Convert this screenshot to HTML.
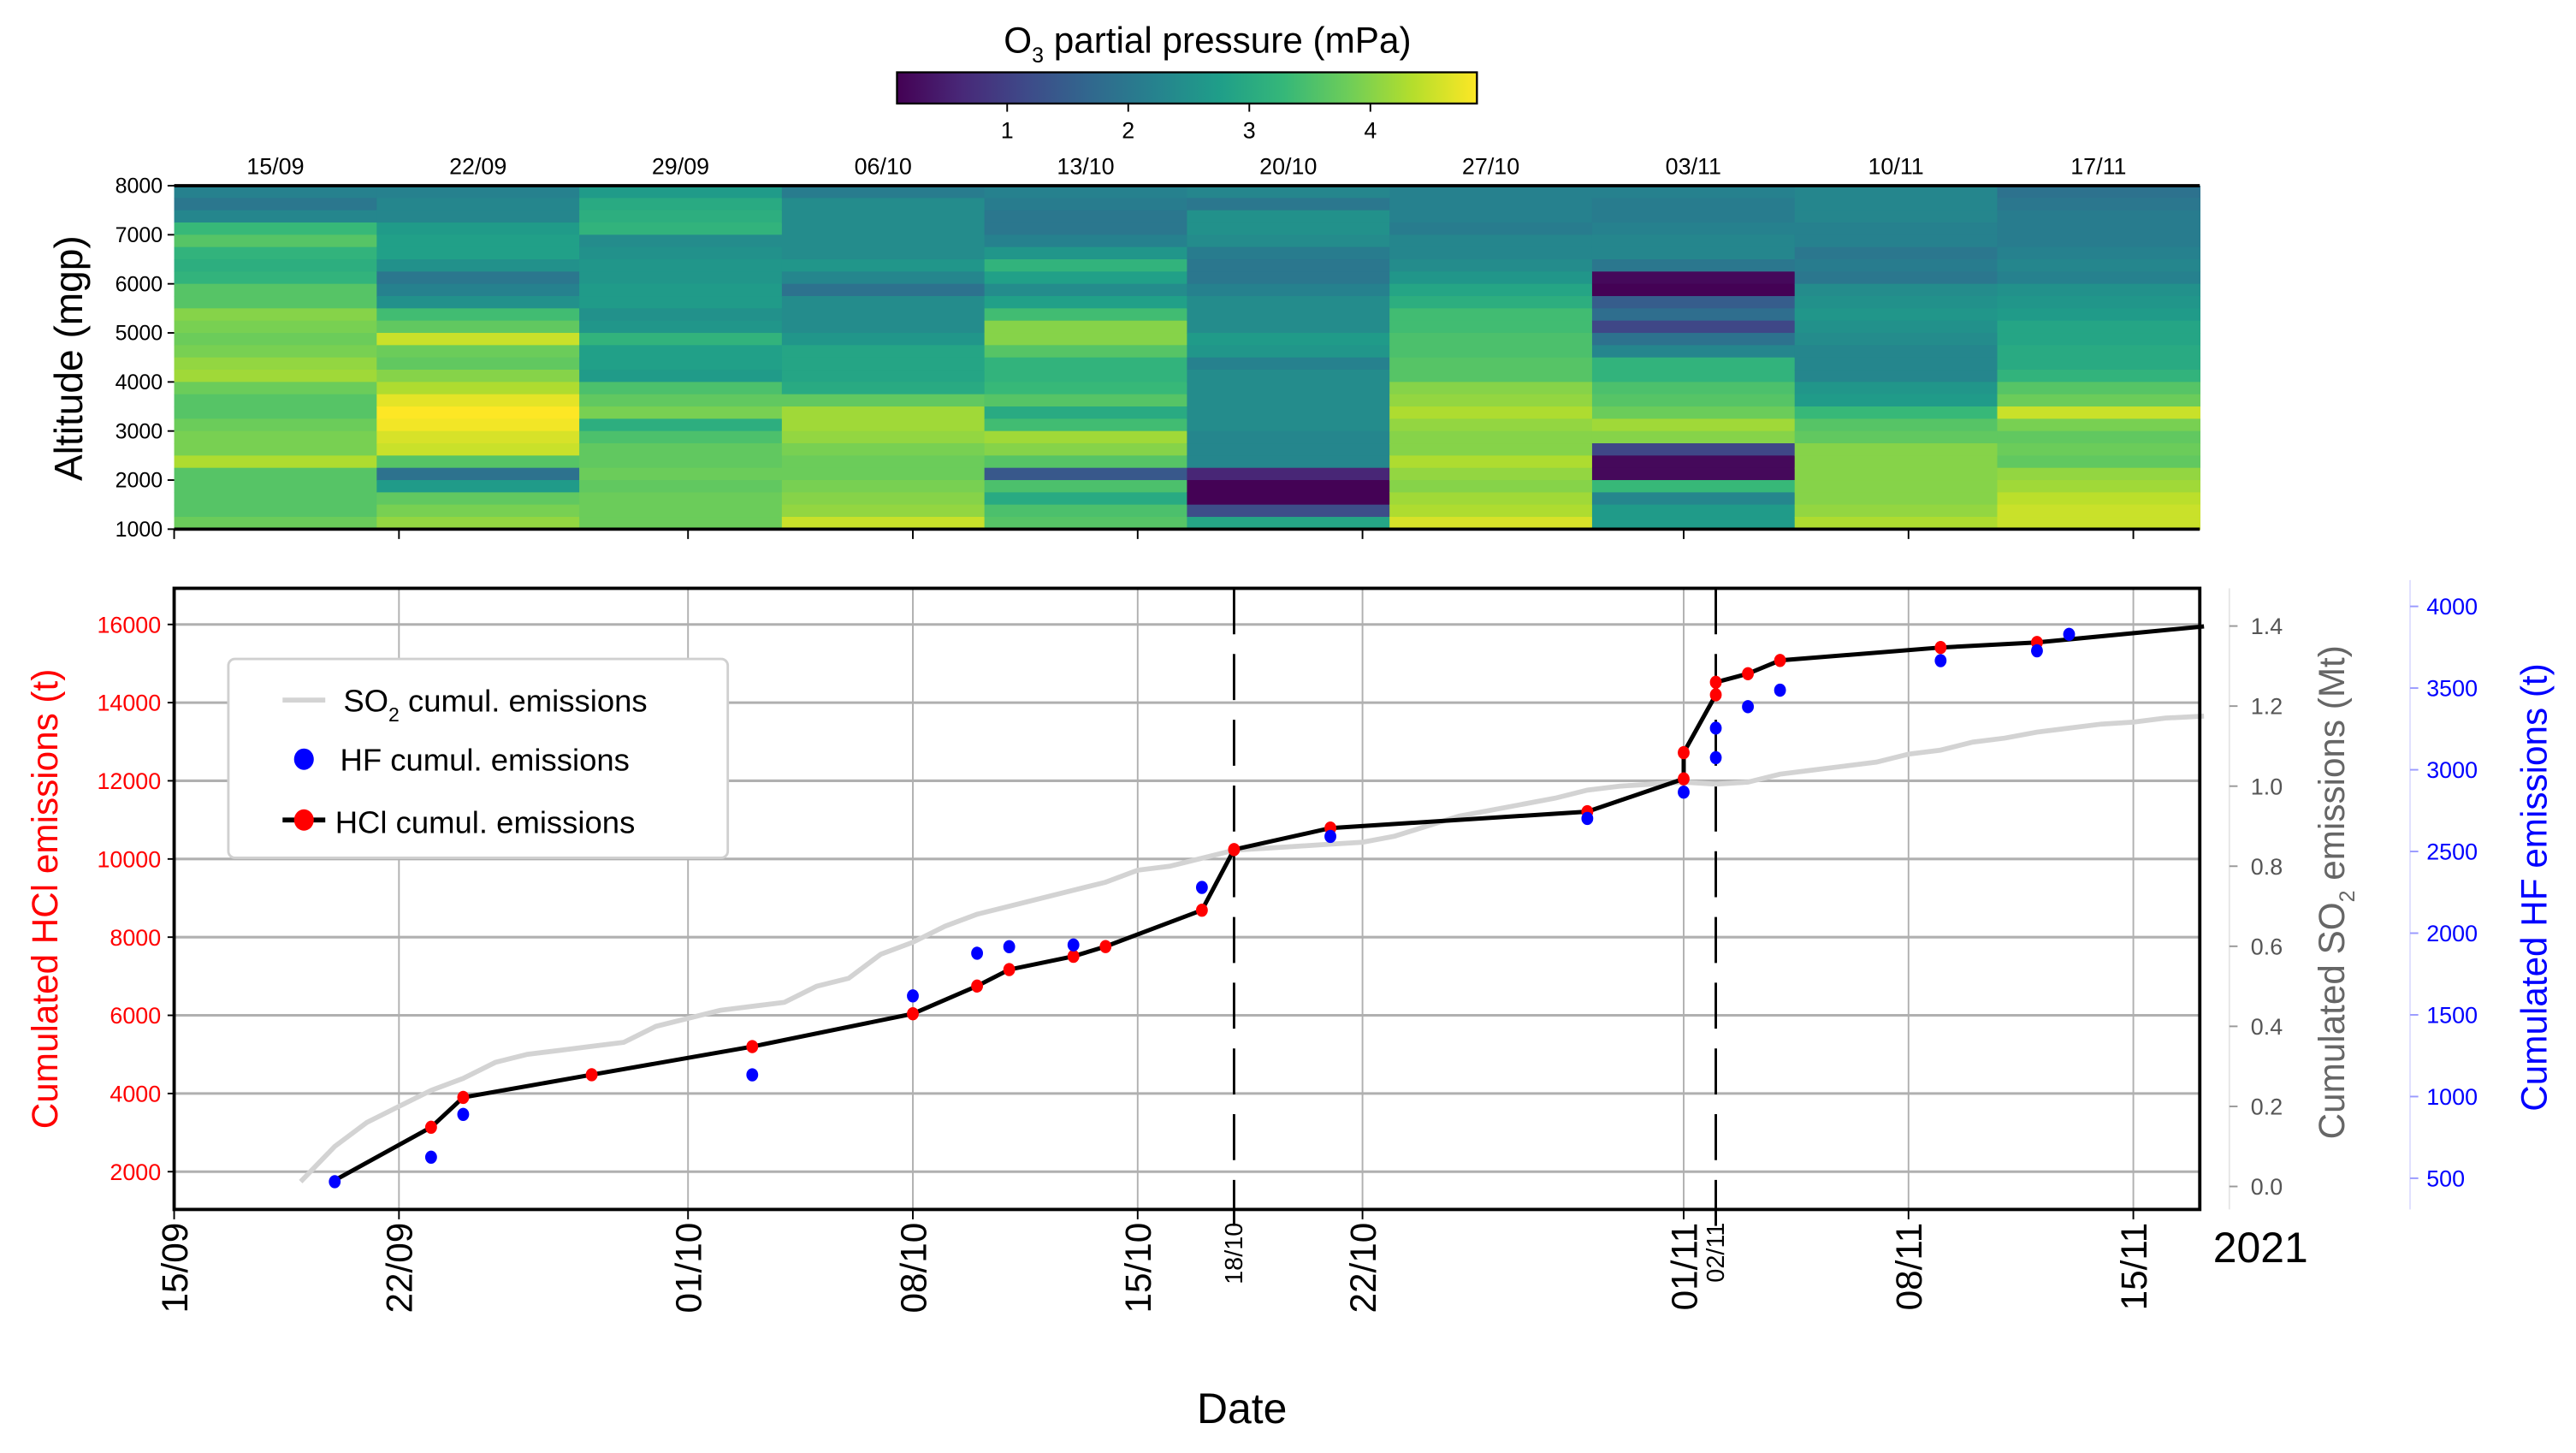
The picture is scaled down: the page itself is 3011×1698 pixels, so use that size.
<!DOCTYPE html>
<html><head><meta charset="utf-8">
<style>
html,body{margin:0;padding:0;background:#fff;}
svg{display:block;font-family:"Liberation Sans","DejaVu Sans",sans-serif;}
</style></head>
<body>
<svg id="fig" width="3011" height="1698" viewBox="0 0 1568 884.2" preserveAspectRatio="none" xmlns="http://www.w3.org/2000/svg">
<g id="heat"></g>
<g id="cbar"></g>
<g id="main"></g>
</svg>
<script>
// ---- heatmap data (columns = weekly soundings, rows top 8000m -> bottom 1000m, 250 m) ----
const o3Dates = ["15/09","22/09","29/09","06/10","13/10","20/10","27/10","03/11","10/11","17/11"];
const altTicks = [1000,2000,3000,4000,5000,6000,7000,8000];
const cbarTicks = [1,2,3,4];
const o3c1 = [2.2,2.0,2.3,3.3,3.6,3.2,3.1,3.2,3.6,3.6,4.0,3.9,3.8,3.9,4.1,4.2,3.8,3.6,3.6,3.8,3.9,3.9,4.3,3.6,3.6,3.6,3.6,3.8];
const o3c2 = [2.2,2.3,2.3,2.7,2.8,2.8,2.5,2.0,2.2,2.5,3.4,3.7,4.5,3.8,3.7,4.0,4.3,4.7,4.9,4.8,4.6,4.5,3.6,1.9,2.7,3.7,3.9,4.1];
const o3c3 = [2.7,3.0,3.1,3.2,2.4,2.5,2.6,2.6,2.7,2.7,2.5,2.6,3.2,2.8,2.8,2.7,3.5,3.7,3.9,3.1,3.5,3.7,3.7,3.8,3.7,3.8,3.8,3.8];
const o3c4 = [2.1,2.4,2.4,2.4,2.4,2.4,2.6,2.3,1.9,2.4,2.4,2.4,2.6,2.9,2.9,2.9,3.0,3.7,4.2,4.2,4.1,3.9,3.8,3.8,3.9,4.0,4.1,4.5];
const o3c5 = [2.2,2.1,2.0,2.0,2.2,2.6,3.2,2.8,2.4,2.8,3.4,4.0,4.0,3.6,3.2,3.2,3.3,3.6,3.0,3.4,4.2,4.0,3.6,1.4,3.5,3.0,3.5,3.6];
const o3c6 = [2.3,2.0,2.5,2.5,2.4,2.1,2.0,2.0,2.2,2.4,2.4,2.4,2.7,2.6,2.2,2.4,2.4,2.4,2.4,2.4,2.3,2.3,2.3,0.6,0.1,0.1,1.2,2.9];
const o3c7 = [2.2,2.2,2.2,2.1,2.3,2.3,2.4,2.6,2.9,3.1,3.4,3.4,3.5,3.5,3.6,3.6,4.0,4.1,4.3,4.1,4.0,4.0,4.3,4.1,4.0,4.2,4.3,4.6];
const o3c8 = [2.2,2.1,2.1,2.2,2.3,2.3,2.0,0.2,0.1,1.5,1.8,1.1,1.9,2.3,3.2,3.2,3.5,3.6,3.8,4.2,4.0,1.1,0.2,0.2,3.3,2.3,2.7,2.7];
const o3c9 = [2.3,2.3,2.3,2.2,2.2,2.0,2.1,2.0,2.4,2.5,2.6,2.5,2.4,2.3,2.3,2.3,2.6,2.7,3.3,3.6,3.7,4.0,4.0,4.0,4.0,4.0,4.1,4.3];
const o3c10 = [1.9,2.0,2.1,2.1,2.1,2.2,2.3,2.2,2.5,2.6,2.7,2.9,2.9,3.0,3.0,3.2,3.6,3.8,4.5,3.9,3.7,3.8,3.7,4.1,4.2,4.4,4.5,4.5];
const o3Cols = [o3c1,o3c2,o3c3,o3c4,o3c5,o3c6,o3c7,o3c8,o3c9,o3c10];

// ---- emissions data (day = days since 15/09) ----
const hclDays = [5,8,9,13,18,23,25,26,28,29,32,33,36,44,47,47,48,48,49,50,55,58,63.2];
const hclVals = [1780,3137,3900,4480,5200,6040,6750,7170,7510,7760,8690,10240,10790,11210,12050,12720,14200,14520,14740,15080,15410,15540,15950];
const hclMarker = [0,1,1,1,1,1,1,1,1,1,1,1,1,1,1,1,1,1,1,1,1,1,0];
const hfDays = [5,8,9,18,23,25,26,28,32,36,44,47,48,48,49,50,55,58,59];
const hfVals = [479,629,891,1133,1616,1877,1917,1928,2280,2592,2702,2863,3074,3255,3386,3487,3668,3728,3829];
const so2Days = [3.94,5,6,7,8,9,10,11,12,13,14,15,16,17,18,19,20,21,22,23,24,25,26,27,28,29,30,31,32,33,34,35,36,37,38,39,40,41,42,43,44,45,46,47,48,49,50,51,52,53,54,55,56,57,58,59,60,61,62,63.2];
const so2Vals = [0.012,0.10,0.16,0.20,0.24,0.27,0.31,0.33,0.34,0.35,0.36,0.40,0.42,0.44,0.45,0.46,0.50,0.52,0.58,0.61,0.65,0.68,0.70,0.72,0.74,0.76,0.79,0.80,0.82,0.84,0.845,0.85,0.855,0.86,0.875,0.90,0.925,0.94,0.955,0.97,0.99,1.0,1.005,1.01,1.005,1.01,1.03,1.04,1.05,1.06,1.08,1.09,1.11,1.12,1.135,1.145,1.155,1.16,1.17,1.175];
const dateTickDays = [0,7,16,23,30,37,47,54,61];
const dateTickLabels = ["15/09","22/09","01/10","08/10","15/10","22/10","01/11","08/11","15/11"];
const eventDays = [33,48];
const eventLabels = ["18/10","02/11"];
const hclTicks = [2000,4000,6000,8000,10000,12000,14000,16000];
const so2Ticks = [0.0,0.2,0.4,0.6,0.8,1.0,1.2,1.4];
const hfTicks = [500,1000,1500,2000,2500,3000,3500,4000];

const NS="http://www.w3.org/2000/svg";
function mk(parent,tag,attrs,text){const e=document.createElementNS(NS,tag);for(const k in attrs)e.setAttribute(k,attrs[k]);if(text!==undefined)e.textContent=text;parent.appendChild(e);return e;}

// viridis
const VS=[[68,1,84],[72,40,120],[62,74,137],[49,104,142],[38,130,142],[31,158,137],[53,183,121],[109,205,89],[180,222,44],[253,231,37]];
function viridis(t){t=Math.max(0,Math.min(1,t));const p=t*(VS.length-1);const i=Math.min(VS.length-2,Math.floor(p));const f=p-i;const a=VS[i],b=VS[i+1];return `rgb(${Math.round(a[0]+(b[0]-a[0])*f)},${Math.round(a[1]+(b[1]-a[1])*f)},${Math.round(a[2]+(b[2]-a[2])*f)})`;}
const VMIN=0.09,VMAX=4.88;
const cmap=v=>viridis((v-VMIN)/(VMAX-VMIN));

// shared x axis
const X0=106,PXD=19.55;
const xDay=d=>X0+d*PXD;

// ---- heatmap ----
const heat=document.getElementById('heat');
const HX0=106,HX1=1339,HY0=113,HY1=322;
const altY=a=>HY1-(a-1000)/7000*(HY1-HY0);
const colW=(HX1-HX0)/o3Cols.length;
o3Cols.forEach((col,ci)=>{
  col.forEach((v,ri)=>{
    const aTop=8000-ri*250;
    const r=mk(heat,'rect',{x:HX0+ci*colW,y:altY(aTop),width:colW+0.4,height:altY(aTop-250)-altY(aTop)+0.4,fill:cmap(v)});
    
    
  });
  const t=mk(heat,'text',{x:HX0+(ci+0.5)*colW,y:106,'font-size':14,'text-anchor':'middle'},o3Dates[ci]);
  
  
});
mk(heat,'line',{x1:HX0,y1:HY0,x2:HX1,y2:HY0,stroke:'#000','stroke-width':2});
mk(heat,'line',{x1:HX0,y1:HY1,x2:HX1,y2:HY1,stroke:'#000','stroke-width':2});
altTicks.forEach(a=>{
  mk(heat,'line',{x1:HX0-4,y1:altY(a),x2:HX0,y2:altY(a),stroke:'#000','stroke-width':1});
  const t=mk(heat,'text',{x:HX0-7,y:altY(a)+4.5,'font-size':13,'text-anchor':'end'},String(a));
  
  
});
dateTickDays.forEach(d=>mk(heat,'line',{x1:xDay(d),y1:HY1,x2:xDay(d),y2:HY1+6,stroke:'#000','stroke-width':1}));
{const t=mk(heat,'text',{x:0,y:0,'font-size':24,'text-anchor':'middle',transform:'translate(50,218) rotate(-90)'},'Altitude  (mgp)');
}

// ---- colorbar ----
const cb=document.getElementById('cbar');
const CB0=546,CB1=899;
const cbX=v=>CB0+(v-VMIN)/(VMAX-VMIN)*(CB1-CB0);
const defs=mk(cb,'defs',{});
const lg=mk(defs,'linearGradient',{id:'vg',x1:0,x2:1,y1:0,y2:0});
VS.forEach((c,i)=>mk(lg,'stop',{offset:i/(VS.length-1),'stop-color':`rgb(${c})`}));
mk(cb,'rect',{x:CB0,y:44,width:CB1-CB0,height:19,fill:'url(#vg)',stroke:'#000','stroke-width':1.2});
cbarTicks.forEach(v=>{
  mk(cb,'line',{x1:cbX(v),y1:63,x2:cbX(v),y2:68,stroke:'#000','stroke-width':1});
  const t=mk(cb,'text',{x:cbX(v),y:84,'font-size':14,'text-anchor':'middle'},String(v));
  
});
{const t=mk(cb,'text',{x:735,y:32,'font-size':22,'text-anchor':'middle'});

t.innerHTML='O<tspan font-size="13" dy="6">3</tspan><tspan dy="-6"> partial pressure (mPa)</tspan>';}

// ---- main chart ----
const m=document.getElementById('main');
const MX0=106,MX1=1339,MY0=358,MY1=736;
const yH=v=>380+(16000-v)*0.023786;
const yS=v=>722-v*243.6;
const yF=v=>369+(4000-v)*0.09943;
// grid
hclTicks.forEach(v=>mk(m,'line',{x1:MX0,y1:yH(v),x2:MX1,y2:yH(v),stroke:'#b0b0b0','stroke-width':1.6}));
dateTickDays.slice(1).forEach(d=>mk(m,'line',{x1:xDay(d),y1:MY0,x2:xDay(d),y2:MY1,stroke:'#b0b0b0','stroke-width':1}));
// event dashed lines
eventDays.forEach((d,i)=>{
  const l=mk(m,'line',{x1:xDay(d),y1:MY0,x2:xDay(d),y2:MY1+10,stroke:'#000','stroke-width':1.5,'stroke-dasharray':'28,12'});
  
});
// SO2 line
{const p=mk(m,'polyline',{points:so2Days.map((d,i)=>xDay(d)+','+yS(so2Vals[i])).join(' '),fill:'none',stroke:'#d3d3d3','stroke-width':3});
}
// HCl line
{const p=mk(m,'polyline',{points:hclDays.map((d,i)=>xDay(d)+','+yH(hclVals[i])).join(' '),fill:'none',stroke:'#000','stroke-width':2.6});
}
hclDays.forEach((d,i)=>{if(!hclMarker[i])return;
  const c=mk(m,'ellipse',{cx:xDay(d),cy:yH(hclVals[i]),rx:3.6,ry:4,fill:'#ff0000'});
  });
hfDays.forEach((d,i)=>{
  const c=mk(m,'ellipse',{cx:xDay(d),cy:yF(hfVals[i]),rx:3.6,ry:4,fill:'#0000ff'});
  });
// frame
mk(m,'rect',{x:MX0,y:MY0,width:MX1-MX0,height:MY1-MY0,fill:'none',stroke:'#000','stroke-width':2});
// x ticks
dateTickDays.forEach((d,i)=>{
  mk(m,'line',{x1:xDay(d),y1:MY1,x2:xDay(d),y2:MY1+6,stroke:'#000','stroke-width':1});
  const t=mk(m,'text',{x:0,y:0,'font-size':22,'text-anchor':'end',transform:`translate(${xDay(d)+8},${MY1+8}) rotate(-90)`},dateTickLabels[i]);
  
});
eventDays.forEach((d,i)=>{
  const t=mk(m,'text',{x:0,y:0,'font-size':15,'text-anchor':'end',transform:`translate(${xDay(d)+5},${MY1+8}) rotate(-90)`},eventLabels[i]);
  
});
{const t=mk(m,'text',{x:1376,y:768,'font-size':26,'text-anchor':'middle'},'2021');}
{const t=mk(m,'text',{x:756,y:866,'font-size':26,'text-anchor':'middle'},'Date');}
// left axis
hclTicks.forEach(v=>{
  mk(m,'line',{x1:MX0-4,y1:yH(v),x2:MX0,y2:yH(v),stroke:'#000','stroke-width':1});
  const t=mk(m,'text',{x:MX0-8,y:yH(v)+5,'font-size':14,'text-anchor':'end',fill:'#ff0000'},String(v));
  
});
{const t=mk(m,'text',{x:0,y:0,'font-size':22,'text-anchor':'middle',fill:'#ff0000',transform:'translate(35,547) rotate(-90)'},'Cumulated HCl emissions (t)');}
// SO2 axis
mk(m,'line',{x1:1357,y1:MY0,x2:1357,y2:MY1,stroke:'#e6e6e6','stroke-width':1});
so2Ticks.forEach(v=>{
  mk(m,'line',{x1:1357,y1:yS(v),x2:1362,y2:yS(v),stroke:'#999','stroke-width':1});
  const t=mk(m,'text',{x:1370,y:yS(v)+5,'font-size':14,fill:'#555'},v.toFixed(1));
  
});
{const t=mk(m,'text',{x:0,y:0,'font-size':22,'text-anchor':'middle',fill:'#666',transform:'translate(1427,543) rotate(-90)'});
t.innerHTML='Cumulated SO<tspan font-size="13" dy="6">2</tspan><tspan dy="-6"> emissions (Mt)</tspan>';
}
// HF axis
mk(m,'line',{x1:1467,y1:MY0-5,x2:1467,y2:MY1,stroke:'#e0e0ff','stroke-width':1});
hfTicks.forEach(v=>{
  mk(m,'line',{x1:1467,y1:yF(v),x2:1472,y2:yF(v),stroke:'#99f','stroke-width':1});
  const t=mk(m,'text',{x:1477,y:yF(v)+5,'font-size':14,fill:'#0000ff'},String(v));
  
});
{const t=mk(m,'text',{x:0,y:0,'font-size':22,'text-anchor':'middle',fill:'#0000ff',transform:'translate(1550,540) rotate(-90)'},'Cumulated HF emissions (t)');}
// legend
const lgG=mk(m,'g',{});

mk(lgG,'rect',{x:139,y:401,width:304,height:121,rx:4,fill:'#fff',stroke:'#d0d0d0','stroke-width':1.5});
mk(lgG,'line',{x1:172,y1:426,x2:198,y2:426,stroke:'#d3d3d3','stroke-width':3});
{const t=mk(lgG,'text',{x:209,y:433,'font-size':19});t.innerHTML='SO<tspan font-size="12" dy="6">2</tspan><tspan dy="-6"> cumul. emissions</tspan>';}
mk(lgG,'ellipse',{cx:185,cy:462,rx:6,ry:6.5,fill:'#0000ff'});
{const t=mk(lgG,'text',{x:207,y:469,'font-size':19},'HF cumul. emissions');}
mk(lgG,'line',{x1:172,y1:499,x2:198,y2:499,stroke:'#000','stroke-width':3});
mk(lgG,'ellipse',{cx:185,cy:499,rx:6,ry:6.5,fill:'#ff0000'});
{const t=mk(lgG,'text',{x:204,y:507,'font-size':19},'HCl cumul. emissions');}
</script>
</body></html>
